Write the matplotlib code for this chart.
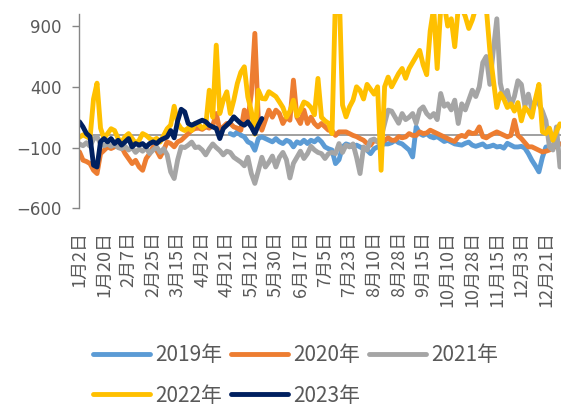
import numpy as np
import matplotlib
matplotlib.use("Agg")
import matplotlib.pyplot as plt

plt.rcParams['font.family'] = ['Noto Sans CJK SC', 'DejaVu Sans']
plt.rcParams['axes.unicode_minus'] = True

# category axis: a label every `step` trading days
date_labels = ["1月2日", "1月20日", "2月7日", "2月25日", "3月15日", "4月2日", "4月21日",
               "5月12日", "5月30日", "6月17日", "7月5日", "7月23日", "8月10日", "8月28日",
               "9月15日", "10月10日", "10月28日", "11月15日", "12月3日", "12月21日"]
step = 7

# 2019 starts later in the year
y2019 = [np.nan] * 43 + [
    15, 2, 29, 2, -12, -53, -67,
    -122, -26, -12, -26, -40, -53, -26, -53, -67, -40,
    -53, -94, -53, -67, -40, -67, -40, -53, -26, -53,
    -95, -110, -120, -232, -200, -95, -70, -80, -95, -80,
    -95, -110, -122, -150, -110, -95, -80, -70, -70, -60,
    -40, -60, -70, -95, -120, -177, 70, 15, 0, 15,
    -10, -20, -10, -30, -50, -40, -55, -70, -75, -80,
    -65, -55, -80, -90, -80, -70, -95, -90, -80, -95,
    -90, -105, -65, -80, -95, -95, -90, -105, -150, -205,
    -250, -300, -180, -95, -95, -95, -80, -70]

y2020 = [
    -136, -204, -215, -232, -287, -314, -150, -122, -95, -108,
    -94, -67, -94, -150, -191, -232, -205, -259, -287, -191,
    -150, -94, -122, -177, -122, -53, -67, -94, -53, -40,
    -12, 15, 43, 57, 60, 50, 70, 60, 80, 180,
    43, 70, 98, 98, 70, 60, 43, 208, 125, 345,
    840, 125, 43, 125, 208, 150, 208, 180, 98, 150,
    125, 455, 150, 98, 208, 98, 150, 98, 70, 98,
    70, 43, 40, 0, 29, 29, 29, 15, 0, -10,
    -26, -40, -67, -80, -40, -50, -67, -40, -20, -40,
    -40, -10, -20, -12, 15, 0, 0, 29, 15, 20,
    43, 29, 15, 0, -12, -26, -40, -50, -12, 0,
    -10, 29, 15, 20, 70, -10, -20, 0, 15, 29,
    15, 0, -12, 0, 125, 0, -26, -60, -94, -94,
    -108, -122, -136, -130, -120, -100, -90, -70]

y2021 = [
    -70, -85, -60, -90, -30, -10, -70, -85, -70, -90,
    -75, -100, -110, -90, -120, -100, -140, -110, -130, -100,
    -150, -120, -95, -140, -110, -160, -300, -355, -200, -94,
    -100, -80, -55, -100, -95, -120, -160, -110, -70, -100,
    -125, -160, -130, -140, -180, -200, -220, -250, -180, -314,
    -395, -290, -180, -260, -220, -170, -260, -180, -140, -200,
    -350, -230, -180, -130, -190, -150, -90, -120, -140, -150,
    -190, -150, -140, -150, -67, -140, -80, -95, -70, -180,
    -314, -95, -120, -40, -30, -55, -15, 98, 208, 200,
    150, 100, 180, 130, 150, 180, 100, 210, 235, 180,
    150, 180, 130, 345, 240, 260, 210, 290, 98, 260,
    210, 290, 372, 320, 400, 600, 650, 420, 700, 960,
    430, 300, 370, 240, 320, 450, 420, 240, 340, 210,
    290, 260, 200, 120, -95, -120, 70, -260]

y2022 = [
    -15, 5, -10, -25, 300, 430, 60, -25, 15, 55,
    40, -25, -55, -10, 15, -25, -65, -40, 15, 0,
    -25, -40, -25, -55, 0, 55, 85, 240, 100, 55,
    40, 60, 40, 100, 90, 60, 80, 372, 150, 743,
    180, 290, 359, 180, 290, 427, 520, 565, 317, 200,
    10, 372, 304, 300, 360, 340, 320, 276, 230, 150,
    200, 290, 160, 210, 275, 260, 230, 170, 469, 150,
    120, 100, 15, 1150, 1250, 250, 153, 235, 290, 400,
    370, 300, 420, 380, 340, 400, -287, 400, 480, 400,
    455, 510, 551, 470, 551, 600, 650, 700, 580, 500,
    860, 1050, 550, 1050, 1080, 900, 960, 730, 1050, 1050,
    980, 880, 950, 1050, 1100, 1100, 1050, 700, 460, 230,
    345, 300, 230, 260, 200, 270, 120, 230, 200, 150,
    300, 420, 30, 15, 60, -40, 30, 95]

y2023 = [
    112, 70, 15, -10, -245, -260, -53, -26, -53, -26,
    -67, -40, -80, -53, -26, -94, -67, -80, -67, -94,
    -67, -53, -67, -40, -26, -12, 40, -20, 120, 215,
    194, 98, 84, 98, 112, 125, 112, 84, 70, 57,
    -26, 57, 84, 112, 153, 125, 98, 84, 112, 70,
    15, 84, 139]

series = [("2019年", y2019, "#5B9BD5"),
          ("2020年", y2020, "#ED7D31"),
          ("2021年", y2021, "#A5A5A5"),
          ("2022年", y2022, "#FFC000"),
          ("2023年", y2023, "#002060")]

fig = plt.figure(figsize=(5.61, 4.07), dpi=100)
ax = fig.add_axes([0.1417, 0.4882, 0.8583, 0.4776])

ax.axhline(0, color="#868686", lw=1.1, zorder=1)

lines = {}
for name, vals, col in series:
    x = np.arange(len(vals))
    ln, = ax.plot(x, vals, color=col, lw=3.5, solid_joinstyle="round",
                  solid_capstyle="round", label=name, zorder=2)
    lines[name] = ln

ax.set_ylim(-600, 1000)
ax.set_yticks([-600, -100, 400, 900])
ax.set_xlim(0, 137.3)
ax.set_xticks(np.arange(len(date_labels)) * step)
ax.set_xticklabels(date_labels, rotation=90, fontsize=13, color="#595959")

for lab in ax.get_yticklabels():
    lab.set_fontfamily("DejaVu Sans")
ax.tick_params(axis="y", length=5, width=1, color="#868686", pad=8,
               labelsize=12, labelcolor="#595959")
ax.tick_params(axis="x", length=0, pad=16)

for s in ["top", "right", "bottom"]:
    ax.spines[s].set_visible(False)
ax.spines["left"].set_color("#868686")
ax.spines["left"].set_linewidth(1)

# legend filled row by row: 2019 2020 2021 / 2022 2023
order = ["2019年", "2022年", "2020年", "2023年", "2021年"]
leg = fig.legend([lines[k] for k in order], order, loc="upper left",
                 bbox_to_anchor=(93 / 561, 1 - 344 / 407), ncol=3, frameon=False,
                 fontsize=15, handlelength=2.75, handletextpad=0.25,
                 columnspacing=0.4, labelspacing=0.9, borderpad=0, borderaxespad=0)
for t in leg.get_texts():
    t.set_color("#595959")

fig.savefig("out.png", dpi=100)
